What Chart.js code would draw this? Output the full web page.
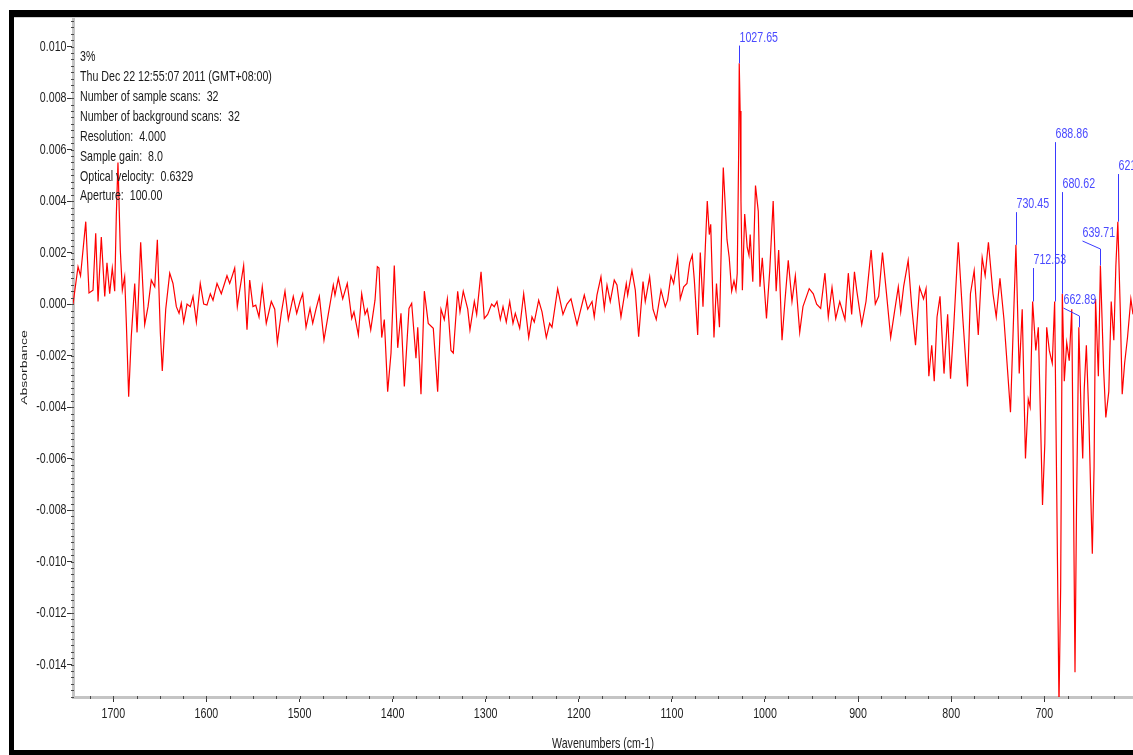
<!DOCTYPE html>
<html>
<head>
<meta charset="utf-8">
<title>Absorbance spectrum</title>
<script src="https://cdn.jsdelivr.net/npm/chart.js@4.4.1/dist/chart.umd.min.js"></script>
<style>
  html, body { margin: 0; padding: 0; background: #ffffff; overflow: hidden; }
  #wrap { width: 1133px; height: 755px; position: relative; }
  canvas { display: block; }
</style>
</head>
<body>
<div id="wrap"><canvas id="spectrum" width="1133" height="755"></canvas></div>
<script>
// Spectrum samples: wavenumber (cm-1) and absorbance
const wavenumbers = [
  1743.3, 1737.9, 1735.2, 1729.6, 1726.1, 1721.8, 1718.9, 1716.4, 1712.9, 1709.2,
  1706.8, 1703.9, 1701.1, 1698.5, 1696.8, 1695.0, 1692.5, 1690.3, 1687.8, 1686.0,
  1683.5, 1680.7, 1677.0, 1674.5, 1670.6, 1666.3, 1662.7, 1659.2, 1655.5, 1652.7,
  1649.5, 1647.4, 1643.7, 1639.4, 1635.9, 1632.3, 1629.4, 1627.0, 1624.4, 1620.8,
  1617.3, 1614.4, 1610.8, 1606.6, 1602.9, 1599.4, 1595.8, 1592.9, 1588.6, 1584.0,
  1577.9, 1575.0, 1572.2, 1569.6, 1566.8, 1564.2, 1560.0, 1556.4, 1553.5, 1550.0,
  1547.0, 1543.5, 1540.0, 1535.7, 1530.3, 1526.6, 1523.8, 1519.6, 1515.6, 1512.0,
  1506.7, 1503.0, 1499.5, 1496.6, 1493.0, 1488.7, 1485.8, 1482.3, 1478.7, 1473.7,
  1469.1, 1463.7, 1461.9, 1458.3, 1453.6, 1448.7, 1443.9, 1441.5, 1436.8, 1433.2,
  1429.6, 1427.2, 1423.5, 1418.9, 1416.4, 1414.6, 1411.7, 1408.9, 1405.3, 1401.7,
  1398.2, 1394.5, 1391.0, 1387.4, 1382.4, 1379.5, 1374.9, 1373.0, 1369.5, 1365.9,
  1361.7, 1356.3, 1351.6, 1348.0, 1344.5, 1341.2, 1337.3, 1334.8, 1330.1, 1327.6,
  1324.1, 1319.3, 1316.9, 1312.2, 1309.7, 1305.0, 1301.5, 1297.9, 1293.6, 1290.8,
  1287.9, 1284.3, 1281.4, 1277.9, 1274.2, 1270.7, 1268.2, 1263.5, 1259.2, 1253.8,
  1250.3, 1247.8, 1243.1, 1239.5, 1234.9, 1231.3, 1228.8, 1222.7, 1217.0, 1212.7,
  1208.4, 1201.9, 1194.1, 1190.4, 1185.8, 1183.4, 1180.5, 1176.2, 1172.6, 1169.7,
  1166.2, 1161.9, 1159.0, 1154.7, 1149.0, 1147.5, 1142.9, 1139.3, 1135.7, 1131.0,
  1128.6, 1123.9, 1120.3, 1116.8, 1111.7, 1107.1, 1104.6, 1101.0, 1098.1, 1093.8,
  1091.0, 1087.3, 1083.8, 1080.9, 1078.1, 1075.9, 1072.3, 1069.5, 1066.6, 1064.1,
  1062.0, 1059.8, 1058.3, 1054.8, 1052.1, 1048.9, 1046.5, 1044.8, 1040.8, 1038.4,
  1035.8, 1033.3, 1031.2, 1029.8, 1028.3, 1027.65, 1026.7, 1025.8, 1024.3, 1021.8,
  1019.1, 1017.2, 1015.9, 1013.1, 1010.2, 1007.2, 1005.4, 1002.9, 998.4, 994.9,
  991.2, 988.0, 985.3, 981.7, 978.5, 975.0, 971.0, 967.4, 962.7, 959.2,
  952.5, 948.1, 944.5, 940.2, 935.6, 932.0, 928.0, 924.0, 919.7, 914.1,
  910.5, 906.9, 903.9, 901.5, 896.1, 891.5, 886.0, 881.5, 877.9, 873.8,
  870.0, 865.0, 860.9, 856.8, 854.2, 851.0, 846.2, 842.4, 838.3, 834.0,
  829.7, 827.0, 824.0, 820.9, 818.2, 815.2, 812.0, 807.7, 803.8, 800.7,
  797.3, 792.4, 787.6, 782.5, 779.3, 775.3, 770.9, 766.7, 763.5, 760.0,
  755.1, 751.6, 747.6, 743.3, 739.0, 736.3, 733.4, 730.45, 726.9, 723.7,
  720.2, 717.2, 715.2, 712.53, 709.1, 706.4, 701.9, 699.4, 697.4, 694.6,
  691.4, 688.86, 686.6, 684.2, 682.4, 680.62, 678.5, 675.9, 673.2, 670.5,
  668.6, 667.0, 665.4, 662.89, 660.5, 658.7, 657.1, 654.8, 652.1, 650.1,
  648.4, 646.5, 644.9, 641.9, 639.71, 636.3, 633.9, 630.7, 628.1, 625.3,
  623.1, 621.0, 618.4, 616.3, 613.7, 610.6, 607.0, 604.7
];

const absorbance = [
  0.0000, 0.00145, 0.0011, 0.0032, 0.00043, 0.00054, 0.00275, 0.0001, 0.0026, 0.0003,
  0.0016, 0.0004, 0.0014, 0.0005, 0.0034, 0.0055, 0.0021, 0.00054, 0.00106, -0.00074,
  -0.0036, -0.00127, 0.0008, -0.0011, 0.0024, -0.0008, -0.0001, 0.00093, 0.00067, 0.0025,
  -0.0011, -0.0026, -0.0002, 0.0012, 0.0008, -0.0001, -0.00036, 0.00003, -0.0007, 0.0000,
  -0.0001, 0.0003, -0.0007, 0.0008, 0.0000, -0.00004, 0.0004, 0.00015, 0.0008, 0.0004,
  0.0011, 0.0008, 0.0011, 0.0014, -0.0001, 0.00054, 0.0015, -0.0010, 0.00093, -0.0001,
  -0.00004, -0.0005, 0.00067, -0.00075, 0.0001, -0.0002, -0.0015, -0.00036, 0.0005, -0.0006,
  0.0003, -0.00036, 0.0001, 0.0004, -0.0009, -0.00017, -0.00075, -0.0002, 0.0003, -0.0014,
  -0.0004, 0.00074, 0.00035, 0.0010, 0.0002, 0.0008, -0.00056, -0.0003, -0.0012, 0.0004,
  -0.0004, -0.0002, -0.0010, 0.00015, 0.00145, 0.0014, -0.0013, -0.0006, -0.0034, -0.0019,
  0.0015, -0.0017, -0.00036, -0.0032, -0.00017, 0.00003, -0.0021, -0.0009, -0.0035, 0.0005,
  -0.00075, -0.00094, -0.0034, -0.0002, -0.0006, 0.0002, -0.0018, -0.0019, 0.0005, -0.0003,
  0.0005, -0.0002, -0.0010, 0.0001, -0.0004, 0.00125, -0.00056, -0.0004, 0.0000, -0.0001,
  0.0001, -0.0006, -0.0001, -0.0007, 0.0001, -0.00075, -0.00036, -0.00094, 0.0004, -0.0013,
  -0.0005, -0.0007, 0.00015, -0.0003, -0.0013, -0.00075, -0.0009, 0.0006, -0.0004, 0.0000,
  0.0002, -0.0008, 0.00035, -0.0002, 0.0001, -0.0005, 0.00035, 0.00106, -0.00017, 0.00074,
  0.0001, 0.00093, 0.00074, -0.0005, 0.0008, 0.00035, 0.0013, 0.00054, -0.00127, 0.00087,
  0.0001, 0.00106, -0.0002, -0.0006, 0.00054, -0.0001, 0.00015, 0.0011, 0.0008, 0.0018,
  0.0002, 0.00067, 0.0008, 0.0016, 0.0019, 0.00093, -0.0012, 0.0020, -0.0001, 0.0022,
  0.0040, 0.0027, 0.0031, -0.0013, 0.0008, -0.0009, 0.0030, 0.0053, 0.0025, 0.0018,
  0.0005, 0.0009, 0.00054, 0.0012, 0.0058, 0.00935, 0.0075, 0.0040, 0.00054, 0.0035,
  0.0022, 0.0019, 0.0027, 0.00087, 0.0046, 0.0036, 0.00067, 0.0018, -0.00056, 0.0013,
  0.0040, 0.0005, 0.0021, -0.0014, 0.00015, 0.0017, 0.0001, 0.0011, -0.0011, -0.0001,
  0.0006, 0.0004, 0.0000, -0.00017, 0.0012, -0.0005, 0.00065, -0.00056, 0.0001, -0.0006,
  0.0012, -0.0004, 0.00125, 0.00054, -0.0008, 0.0001, 0.0021, 0.0000, 0.0003, 0.0020,
  0.0006, -0.0013, -0.0003, 0.00067, -0.0003, 0.0007, 0.0017, -0.0001, -0.0016, 0.00065,
  0.0002, 0.0006, -0.0028, -0.0016, -0.0030, -0.0005, 0.0003, -0.0027, -0.0004, -0.0029,
  -0.0009, 0.0024, -0.0005, -0.0032, 0.0004, 0.0013, -0.0012, 0.0018, 0.0011, 0.0024,
  0.0004, -0.0005, 0.0010, -0.0006, -0.0028, -0.0042, -0.0010, 0.0023, -0.0027, -0.0002,
  -0.0060, -0.0037, -0.0040, 0.0001, -0.0018, -0.0009, -0.0078, -0.0054, -0.0009, -0.0018,
  -0.0023, 0.0001, -0.0074, -0.0156, -0.0110, 0.0004, -0.0030, -0.0015, -0.0022, -0.0002,
  -0.0075, -0.0143, -0.0080, -0.0009, -0.0042, -0.0060, -0.0033, -0.0016, -0.0044, -0.0074,
  -0.0097, -0.0063, 0.0002, -0.0028, 0.0015, -0.0025, -0.0044, -0.0034, 0.0001, -0.0014,
  0.0015, 0.0032, -0.0002, -0.0035, -0.0023, -0.0013, 0.0002, -0.0004
];

// Axis ranges and tick labels
const xRange = [604.7, 1743.3];
const yRange = [-0.01526, 0.01111];
const xTickValues = [700, 800, 900, 1000, 1100, 1200, 1300, 1400, 1500, 1600, 1700];
const yTickValues = [-0.014, -0.012, -0.010, -0.008, -0.006, -0.004, -0.002, 0.000, 0.002, 0.004, 0.006, 0.008, 0.010];
const xMinorStep = 25;
const yMinorStep = 0.00025;
const xTitle = 'Wavenumbers (cm-1)';
const yTitle = 'Absorbance';

// Picked peaks and where their labels sit
const peakWavenumbers = [1027.65, 730.45, 712.53, 688.86, 680.62, 662.89, 639.71, 621.00];
const peakLabelLevels = [0.01035, 0.00388, 0.00171, 0.00660, 0.00466, 0.000155, 0.00276, 0.00536];
const peakLabelShift = [0, 0, 0, 0, 0, -16, -18, 0];

// Collection parameters printed in the corner
const infoLines = [
  '3%',
  'Thu Dec 22 12:55:07 2011 (GMT+08:00)',
  'Number of sample scans:  32',
  'Number of background scans:  32',
  'Resolution:  4.000',
  'Sample gain:  8.0',
  'Optical velocity:  0.6329',
  'Aperture:  100.00'
];

const baseFamily = "'Liberation Sans', Arial, sans-serif";
const textFont = '15px ' + baseFamily;
const squeeze = 0.71;   // condensed lettering
Chart.defaults.font.family = baseFamily;
Chart.defaults.font.size = 14;

// condensed text helper: squeezes glyphs horizontally around the anchor
function narrowText(ctx, text, x, y, align, color) {
  ctx.save();
  ctx.translate(x, y);
  ctx.scale(squeeze, 1);
  ctx.font = textFont;
  ctx.textAlign = align;
  ctx.textBaseline = 'middle';
  ctx.fillStyle = color;
  ctx.fillText(text, 0, 0);
  ctx.restore();
}

const decorations = {
  id: 'decorations',
  beforeDraw(chart) {
    const { ctx, width, height } = chart;
    ctx.save();
    ctx.fillStyle = '#ffffff';
    ctx.fillRect(0, 0, width, height);
    ctx.restore();
  },
  afterDatasetsDraw(chart) {
    const { ctx, chartArea, scales: { x, y } } = chart;
    ctx.save();

    // minor ticks sitting on the axis lines
    ctx.fillStyle = '#4a4a4a';
    const yStart = Math.ceil(y.min / yMinorStep);
    const yEnd = Math.floor(y.max / yMinorStep);
    for (let k = yStart; k <= yEnd; k++) {
      const py = Math.round(y.getPixelForValue(k * yMinorStep));
      ctx.fillRect(chartArea.left - 2, py, 3, 1);
    }
    const xStart = Math.ceil(x.min / xMinorStep);
    const xEnd = Math.floor(x.max / xMinorStep);
    for (let k = xStart; k <= xEnd; k++) {
      const px = Math.round(x.getPixelForValue(k * xMinorStep));
      ctx.fillRect(px, chartArea.bottom - 1, 1, 3);
    }

    // tick labels placed by the scales
    yTickValues.forEach(v => {
      narrowText(ctx, v.toFixed(3), chartArea.left - 6.5, y.getPixelForValue(v), 'right', '#1e1e1e');
    });
    xTickValues.forEach(v => {
      narrowText(ctx, String(v), x.getPixelForValue(v), chartArea.bottom + 17, 'center', '#1e1e1e');
    });

    // axis titles
    narrowText(ctx, xTitle, (chartArea.left + chartArea.right) / 2, 744, 'center', '#1e1e1e');
    ctx.save();
    ctx.translate(24, (chartArea.top + chartArea.bottom) / 2 + 10);
    ctx.rotate(-Math.PI / 2);
    ctx.scale(1, squeeze);
    ctx.font = '14px ' + baseFamily;
    ctx.textAlign = 'center';
    ctx.textBaseline = 'middle';
    ctx.fillStyle = '#1e1e1e';
    ctx.fillText(yTitle, 0, 0);
    ctx.restore();

    // peak labels with leader lines
    peakWavenumbers.forEach((w, i) => {
      const idx = wavenumbers.indexOf(w);
      const px = Math.round(x.getPixelForValue(w)) + 0.5;
      const py = y.getPixelForValue(absorbance[idx]);
      const ly = y.getPixelForValue(peakLabelLevels[i]);
      const lx = px + peakLabelShift[i];
      ctx.strokeStyle = '#3a3aff';
      ctx.lineWidth = 1;
      ctx.beginPath();
      ctx.moveTo(lx, ly + 8);
      if (peakLabelShift[i] !== 0) {
        ctx.lineTo(px, ly + 16);
      }
      ctx.lineTo(px, py);
      ctx.stroke();
      narrowText(ctx, w.toFixed(2), lx, ly, 'left', '#4a4aff');
    });

    // collection parameters
    infoLines.forEach((line, i) => {
      narrowText(ctx, line, chartArea.left + 7, chartArea.top + 39 + i * 19.9, 'left', '#1a1a1a');
    });
    ctx.restore();
  },
  afterDraw(chart) {
    const { ctx, width } = chart;
    ctx.save();
    // window frame
    ctx.fillStyle = '#d0d0d0';
    ctx.fillRect(14, 17, width - 14, 1);
    ctx.fillStyle = '#000000';
    ctx.fillRect(9, 10, width - 9, 7);
    ctx.fillRect(9, 10, 5, 745);
    ctx.fillRect(9, 750, width - 9, 5);
    ctx.restore();
  }
};

const points = wavenumbers.map((w, i) => ({ x: w, y: absorbance[i] }));

new Chart(document.getElementById('spectrum'), {
  type: 'line',
  data: {
    datasets: [{
      data: points,
      borderColor: '#ff0000',
      borderWidth: 1.2,
      pointRadius: 0,
      tension: 0,
      fill: false
    }]
  },
  options: {
    responsive: false,
    animation: false,
    devicePixelRatio: 1,
    layout: { padding: { top: 18, left: 0, right: 0, bottom: 0 } },
    plugins: { legend: { display: false }, tooltip: { enabled: false } },
    scales: {
      x: {
        type: 'linear',
        reverse: true,
        min: xRange[0],
        max: xRange[1],
        afterFit(scale) { scale.height = 58; },
        afterBuildTicks(scale) { scale.ticks = xTickValues.map(v => ({ value: v })); },
        ticks: { display: false, autoSkip: false },
        grid: { drawOnChartArea: false, tickLength: 5, tickColor: '#333333', tickWidth: 1 },
        border: { color: '#c4c4c4', width: 3 },
        title: { display: false }
      },
      y: {
        type: 'linear',
        min: yRange[0],
        max: yRange[1],
        afterFit(scale) { scale.width = 73; },
        afterBuildTicks(scale) { scale.ticks = yTickValues.map(v => ({ value: v })); },
        ticks: { display: false, autoSkip: false },
        grid: { drawOnChartArea: false, tickLength: 6, tickColor: '#333333', tickWidth: 1 },
        border: { color: '#c4c4c4', width: 3 },
        title: { display: false }
      }
    }
  },
  plugins: [decorations]
});
</script>
</body>
</html>
